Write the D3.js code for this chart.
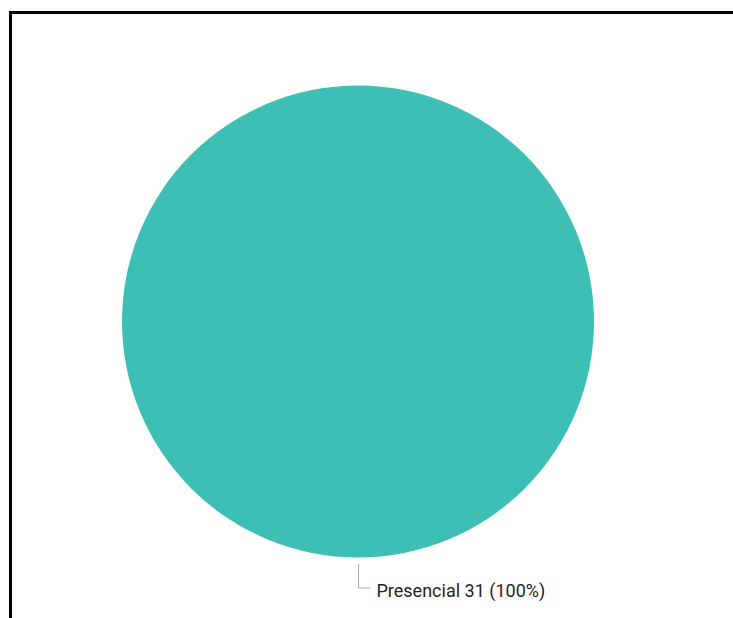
<!DOCTYPE html>
<html><head><meta charset="utf-8">
<script src="https://cdn.jsdelivr.net/npm/d3@7"></script>
<style>html,body{margin:0;padding:0;background:#fff;overflow:hidden}</style>
</head><body>
<svg id="chart" width="733" height="618"></svg>
<script>
const categories = ["Presencial"];
const values = [31];
const colors = ["#3EBFB5"];

const svg = d3.select("#chart");
// frame
svg.append("line").attr("x1", 10.5).attr("x2", 733).attr("y1", 12.5).attr("y2", 12.5)
  .attr("stroke", "#000").attr("stroke-width", 3);
svg.append("line").attr("x1", 10.5).attr("x2", 10.5).attr("y1", 11).attr("y2", 618)
  .attr("stroke", "#000").attr("stroke-width", 3);

const cx = 358, cy = 321.5, r = 236;
const data = categories.map((c, i) => ({cat: c, val: values[i]}));
const total = d3.sum(values);
const pie = d3.pie().value(d => d.val).sort(null);
const arc = d3.arc().innerRadius(0).outerRadius(r);
const g = svg.append("g").attr("transform", `translate(${cx},${cy})`);
const arcs = pie(data);
g.selectAll("path").data(arcs).join("path")
  .attr("d", arc).attr("fill", (d, i) => colors[i]);

// label with leader line
arcs.forEach((a, i) => {
  const mid = (a.startAngle + a.endAngle) / 2; // pi for full circle -> bottom
  const p0 = [Math.sin(mid) * (r + 6) + 0.5, -Math.cos(mid) * (r + 6)];
  const yEnd = -Math.cos(mid) * (r + 30) + 0.5;
  g.append("path")
    .attr("d", `M${p0[0]},${p0[1]} L${p0[0]},${yEnd} L${p0[0] + 12},${yEnd}`)
    .attr("fill", "none").attr("stroke", "#aaaaaa").attr("stroke-width", 1);
  const pct = Math.round(a.data.val / total * 100);
  g.append("text")
    .attr("x", p0[0] + 18).attr("y", yEnd + 8.5)
    .attr("font-family", "Roboto, 'DejaVu Sans', sans-serif")
    .attr("font-size", 18)
    .attr("fill", "#252423")
    .text(`${a.data.cat} ${a.data.val} (${pct}%)`);
});
</script>
</body></html>
